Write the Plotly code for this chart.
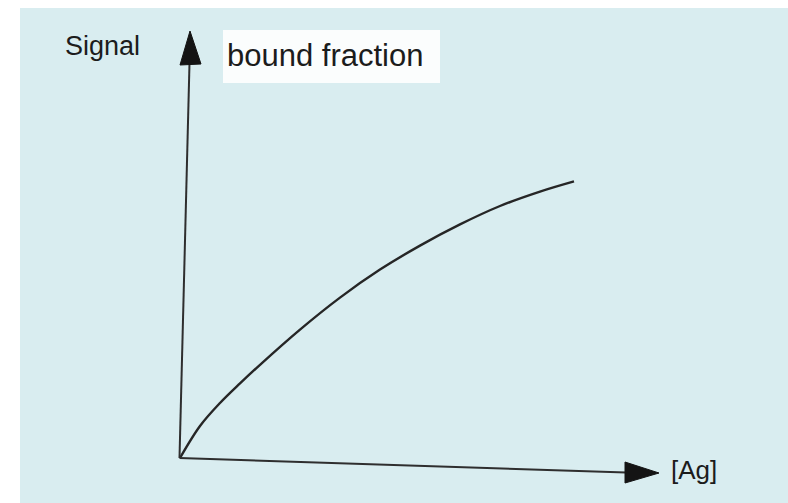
import plotly.graph_objects as go

# ---- data ----
ag_conc = [0, 0.5, 1, 1.5, 2, 3, 4, 5, 6, 7, 8, 9, 9.85]
bound_fraction = [0, 0.08, 0.1375, 0.1865, 0.233, 0.321, 0.401, 0.471, 0.531, 0.584, 0.63, 0.666, 0.6915]

y_label = "Signal"
curve_label = "bound fraction"
x_label = "[Ag]"

# ---- layout geometry (page pixels -> data units) ----
ORIGIN_PX = (180, 458)
PX_PER_X = 40.0
PX_PER_Y = 400.0
W, H = 788, 503
LEFT_WHITE, TOP_WHITE = 20, 8


def d(xp, yp):
    return ((xp - ORIGIN_PX[0]) / PX_PER_X, (ORIGIN_PX[1] - yp) / PX_PER_Y)


def path(points):
    pts = [d(*p) for p in points]
    s = "M %f,%f " % pts[0]
    for p in pts[1:]:
        s += "L %f,%f " % p
    return s + "Z"


BG = "#d9edf0"
INK = "#1c1c1c"
FONT = "Liberation Sans, Arial, Helvetica, sans-serif"

fig = go.Figure()
fig.add_trace(go.Scatter(
    x=ag_conc, y=bound_fraction, mode="lines",
    line=dict(color="#262626", width=2.4, shape="spline", smoothing=1.0),
    hoverinfo="skip", showlegend=False,
))

shapes = []
# white scan borders (left and top)
shapes.append(dict(type="rect", xref="paper", yref="paper", x0=-0.2, x1=0, y0=-0.2, y1=1.2,
                   fillcolor="white", line=dict(width=0), layer="above"))
shapes.append(dict(type="rect", xref="paper", yref="paper", x0=-0.2, x1=1.2, y0=1, y1=1.2,
                   fillcolor="white", line=dict(width=0), layer="above"))
# white label box
x0, y0 = d(223, 83)
x1, y1 = d(440, 30)
shapes.append(dict(type="rect", xref="x", yref="y", x0=x0, y0=y0, x1=x1, y1=y1,
                   fillcolor="#fbfdfd", line=dict(width=0), layer="below"))
# vertical axis line + arrowhead
ax0, ay0 = d(179.5, 458)
ax1, ay1 = d(189.5, 63)
shapes.append(dict(type="line", xref="x", yref="y", x0=ax0, y0=ay0, x1=ax1, y1=ay1,
                   line=dict(color="#2e2e2e", width=2)))
shapes.append(dict(type="path", xref="x", yref="y",
                   path=path([(190, 31), (180, 65), (201, 64)]),
                   fillcolor="#141414", line=dict(color="#141414", width=1)))
# horizontal axis line + arrowhead
bx0, by0 = d(179.5, 458)
bx1, by1 = d(626, 472.5)
shapes.append(dict(type="line", xref="x", yref="y", x0=bx0, y0=by0, x1=bx1, y1=by1,
                   line=dict(color="#2e2e2e", width=2)))
shapes.append(dict(type="path", xref="x", yref="y",
                   path=path([(659, 473), (625, 462), (625, 483)]),
                   fillcolor="#141414", line=dict(color="#141414", width=1)))

annotations = []
sx, sy = d(63, 46)
annotations.append(dict(x=sx, y=sy, xref="x", yref="y", text=y_label, showarrow=False,
                        xanchor="left", yanchor="middle",
                        font=dict(family=FONT, size=27, color=INK)))
bx, byy = d(225, 55)
annotations.append(dict(x=bx, y=byy, xref="x", yref="y", text=curve_label, showarrow=False,
                        xanchor="left", yanchor="middle",
                        font=dict(family=FONT, size=31, color=INK)))
gx, gy = d(669, 470)
annotations.append(dict(x=gx, y=gy, xref="x", yref="y", text=x_label, showarrow=False,
                        xanchor="left", yanchor="middle",
                        font=dict(family=FONT, size=26, color=INK)))

xr0, _ = d(LEFT_WHITE, 0)
xr1, _ = d(W, 0)
_, yr1 = d(0, TOP_WHITE)
_, yr0 = d(0, H)

fig.update_layout(
    width=W, height=H, autosize=False,
    margin=dict(l=LEFT_WHITE, r=0, t=TOP_WHITE, b=0, pad=0),
    paper_bgcolor=BG, plot_bgcolor=BG,
    xaxis=dict(range=[xr0, xr1], visible=False, fixedrange=True),
    yaxis=dict(range=[yr0, yr1], visible=False, fixedrange=True),
    shapes=shapes, annotations=annotations,
    showlegend=False,
)

fig.write_html("out.html", config={"displayModeBar": False},
               post_script="document.body.style.margin='0px';document.body.style.overflow='hidden';")
